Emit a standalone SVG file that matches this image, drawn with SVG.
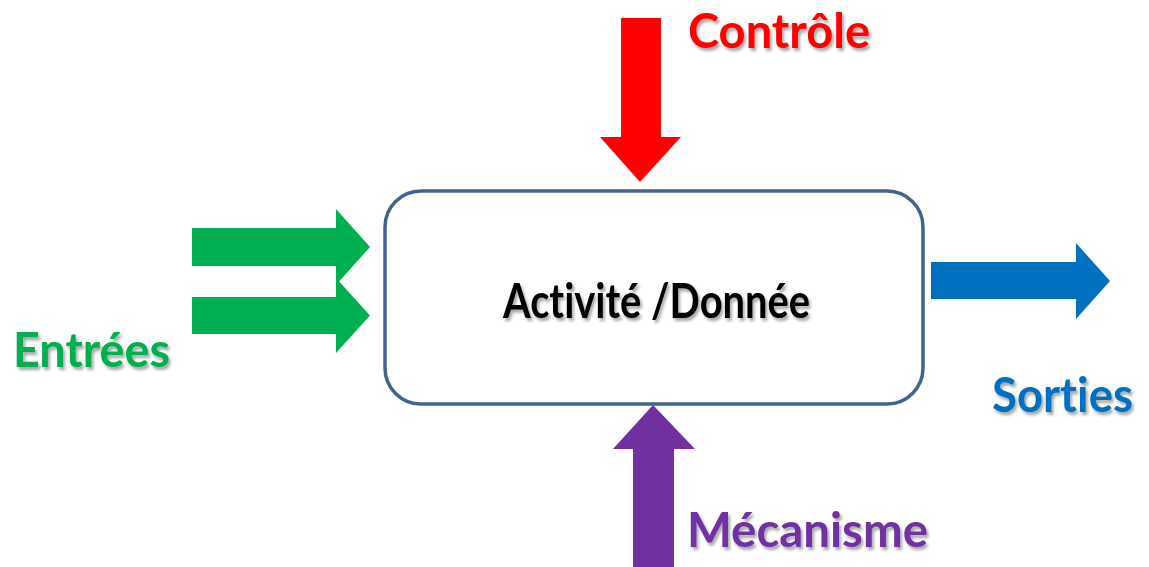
<svg xmlns="http://www.w3.org/2000/svg" width="1149" height="567" viewBox="0 0 1149 567">
  <defs>
    <filter id="shadow" x="-10%" y="-20%" width="130%" height="150%">
      <feDropShadow dx="2" dy="3" stdDeviation="1.6" flood-color="#000" flood-opacity="0.35"/>
    </filter>
  </defs>
  <style>
    .lbl { font-family: Lato, "Open Sans", "Liberation Sans", sans-serif; font-weight: bold; font-size: 47px; font-variant-ligatures: none; font-feature-settings: "liga" 0, "clig" 0; filter: url(#shadow); }
    .box { fill: #ffffff; stroke: #41648F; stroke-width: 3.5; }
  </style>
  <rect width="1149" height="567" fill="#ffffff"/>

  <g id="connectors">
    <polygon id="arrow-controle" fill="#FF0000" points="621,18 661,18 661,137 681,137 640,182 600,137 621,137"/>
    <polygon id="arrow-entree-1" fill="#00B050" points="192,228 336,228 336,209 370,247 336,285 336,266 192,266"/>
    <polygon id="arrow-entree-2" fill="#00B050" points="192,297 336,297 336,278 370,315.5 336,353 336,334 192,334"/>
    <polygon id="arrow-sortie" fill="#0070C0" points="931,262 1076,262 1076,243 1110,281 1076,319 1076,299 931,299"/>
    <polygon id="arrow-mecanisme" fill="#7030A0" points="633,567 633,449 613,449 653,405 695,449 674,449 674,567"/>
  </g>

  <g id="node-activite">
    <rect class="box" x="385" y="191" width="538" height="213" rx="36" ry="36"/>
    <text class="lbl" x="503" y="318" font-size="46" fill="#000000" textLength="307" lengthAdjust="spacingAndGlyphs">Activité /Donnée</text>
  </g>
  <g id="label-controle">
    <text class="lbl" x="688" y="48" fill="#FF0000" textLength="182" lengthAdjust="spacingAndGlyphs">Contrôle</text>
  </g>
  <g id="label-entrees">
    <text class="lbl" x="13" y="367" fill="#00B050" textLength="157" lengthAdjust="spacingAndGlyphs">Entrées</text>
  </g>
  <g id="label-sorties">
    <text class="lbl" x="992" y="412" fill="#0070C0" textLength="141" lengthAdjust="spacingAndGlyphs">Sorties</text>
  </g>
  <g id="label-mecanisme">
    <text class="lbl" x="687" y="547" fill="#7030A0" textLength="241" lengthAdjust="spacingAndGlyphs">Mécanisme</text>
  </g>
</svg>
